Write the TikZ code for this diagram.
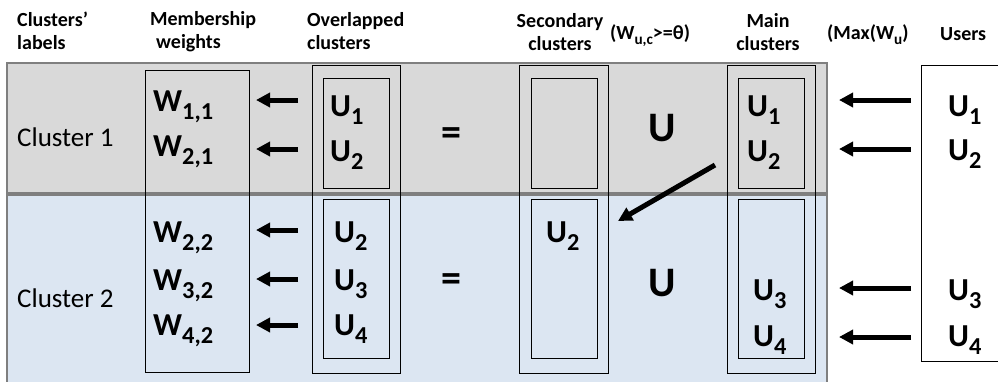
\documentclass[tikz,border=0pt]{standalone}
\usepackage{fontspec}
\setmainfont{Carlito}
\usetikzlibrary{arrows.meta}
\definecolor{bandgray}{HTML}{D9D9D9}
\definecolor{bandblue}{HTML}{DCE6F2}
\definecolor{bandline}{HTML}{7F7F7F}
% lowered, reduced-size index
\newcommand\lo[1]{\raisebox{-0.28em}{\scalebox{0.76}{#1}}}
\tikzset{
  box/.style={draw=black, line width=0.8pt, inner sep=0pt, outer sep=0pt},
  head/.style={font=\fontsize{20}{22.5}\selectfont\bfseries, inner sep=0pt},
  sym/.style={font=\fontsize{32}{36}\selectfont\bfseries, inner sep=0pt, anchor=base west},
  big/.style={font=\fontsize{42}{46}\selectfont\bfseries, inner sep=0pt},
  eqs/.style={font=\fontsize{40}{44}\selectfont\bfseries, inner sep=0pt},
  lab/.style={font=\fontsize{27}{30}\selectfont, inner sep=0pt, anchor=west},
  arr/.style={line width=5pt, -{Triangle[length=14pt,width=14pt]}},
}
\begin{document}
\begin{tikzpicture}[x=1pt,y=-1pt]
\useasboundingbox (0,0) rectangle (998,381);

% cluster bands
\fill[bandgray] (7,63) rectangle (827,193);
\draw[bandline, line width=1.5pt] (7,63) rectangle (827,193);
\fill[bandblue] (7,195) rectangle (827,390);
\draw[bandline, line width=1.5pt] (7,390) -- (7,195) -- (827,195) -- (827,390);

% column headers
\node[head, anchor=base west, align=left] (h1) at (17,49) {Clusters’\\labels};
\node[head, anchor=base west, align=left] (h2) at (150,48) {Membership\\\hspace{6pt}weights};
\node[head, anchor=base west, align=left] (h3) at (307,49) {Overlapped\\clusters};
\node[head, anchor=base, align=center] (h4) at (560,50) {Secondary\\clusters};
\node[head, anchor=base west] (h5) at (610,39) {(W\lo{u,c}>=θ)};
\node[head, anchor=base, align=center] (h6) at (768,50) {Main\\clusters};
\node[head, anchor=base west] (h7) at (827,39) {(Max(W\lo{u})};
\node[head, anchor=base west] (h8) at (940,40) {Users};

% column boxes
\node[box, minimum width=104pt, minimum height=302pt] (mw) at (197,221) {};
\node[box, minimum width=88pt, minimum height=308pt] (ov) at (356,219) {};
\node[box, minimum width=66pt, minimum height=110pt] (ov1) at (356,133) {};
\node[box, minimum width=66pt, minimum height=159pt] (ov2) at (356,278.5) {};
\node[box, minimum width=89pt, minimum height=308pt] (sc) at (563.5,219) {};
\node[box, minimum width=66pt, minimum height=110pt] (sc1) at (564,133) {};
\node[box, minimum width=66pt, minimum height=159pt] (sc2) at (564,278.5) {};
\node[box, minimum width=88pt, minimum height=308pt] (mc) at (771,219) {};
\node[box, minimum width=66pt, minimum height=110pt] (mc1) at (771,133) {};
\node[box, minimum width=66pt, minimum height=159pt] (mc2) at (771,278.5) {};
\draw[line width=0.8pt] (1000,65) -- (921,65) -- (921,361) -- (1000,361);

% cluster labels
\node[lab] (c1) at (17,137) {Cluster 1};
\node[lab] (c2) at (17,298) {Cluster 2};

% membership weights
\node[sym] (w11) at (153,111) {W\lo{1,1}};
\node[sym] (w21) at (153,156) {W\lo{2,1}};
\node[sym] (w22) at (153,242) {W\lo{2,2}};
\node[sym] (w32) at (153,290) {W\lo{3,2}};
\node[sym] (w42) at (153,335) {W\lo{4,2}};

% overlapped clusters
\node[sym] (o1) at (330,116) {U\lo{1}};
\node[sym] (o2) at (330,161) {U\lo{2}};
\node[sym] (o22) at (334,242) {U\lo{2}};
\node[sym] (o3) at (334,290) {U\lo{3}};
\node[sym] (o4) at (334,335) {U\lo{4}};

% operators
\node[eqs] (eq1) at (451,137) {=};
\node[eqs] (eq2) at (451,283) {=};
\node[big] (un1) at (662,128) {U};
\node[big] (un2) at (662,283) {U};

% secondary clusters
\node[sym] (s2) at (546,242) {U\lo{2}};

% main clusters
\node[sym] (m1) at (747,116) {U\lo{1}};
\node[sym] (m2) at (747,161) {U\lo{2}};
\node[sym] (m3) at (753,300) {U\lo{3}};
\node[sym] (m4) at (753,346) {U\lo{4}};

% users
\node[sym] (u1) at (948,116) {U\lo{1}};
\node[sym] (u2) at (948,160) {U\lo{2}};
\node[sym] (u3) at (948,300) {U\lo{3}};
\node[sym] (u4) at (948,346) {U\lo{4}};

% arrow end points
\foreach \n/\y in {a/100, b/149, c/230, d/279, e/325} {
  \coordinate (wf\n) at (298,\y);
  \coordinate (wt\n) at (256,\y);
}
\foreach \n/\y in {a/100, b/149, c/288, d/337} {
  \coordinate (uf\n) at (911,\y);
  \coordinate (ut\n) at (839,\y);
}
\coordinate (df) at (715,165);
\coordinate (dt) at (618,221);

% arrows
\foreach \n in {a,b,c,d,e} \draw[arr] (wf\n) -- (wt\n);
\foreach \n in {a,b,c,d} \draw[arr] (uf\n) -- (ut\n);
\draw[arr] (df) -- (dt);
\end{tikzpicture}
\end{document}
